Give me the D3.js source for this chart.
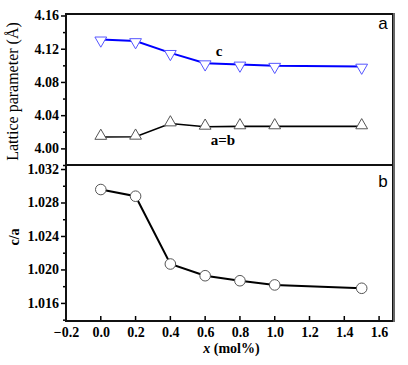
<!DOCTYPE html>
<html><head><meta charset="utf-8">
<script src="https://cdn.jsdelivr.net/npm/d3@7/dist/d3.min.js"></script>
<style>body{margin:0;background:#fff}svg{display:block}</style>
</head><body>
<script>
const xVals = [0, 0.2, 0.4, 0.6, 0.8, 1.0, 1.5];
const cVals = [4.1312, 4.1292, 4.1150, 4.1025, 4.1010, 4.0995, 4.0985];
const abVals = [4.0138, 4.0140, 4.0300, 4.0260, 4.0265, 4.0265, 4.0265];
const caVals = [1.02955, 1.02875, 1.02065, 1.01925, 1.01865, 1.01815, 1.01775];
const xTicks = [-0.2, 0, 0.2, 0.4, 0.6, 0.8, 1.0, 1.2, 1.4, 1.6];
const topTicks = [4.00, 4.04, 4.08, 4.12, 4.16];
const botTicks = [1.016, 1.020, 1.024, 1.028, 1.032];

const W = 408, H = 365;
const L = 66, R = 393, T = 14, M = 165, B = 321;
const svg = d3.select("body").append("svg").attr("width", W).attr("height", H);
const serif = "'Liberation Serif','Times New Roman',serif";

const x = d3.scaleLinear().domain([-0.2, 1.68]).range([L, R]);
const yT = d3.scaleLinear().domain([3.98, 4.1618]).range([M, T]);
const yB = d3.scaleLinear().domain([1.01384, 1.03248]).range([B, M]);

function leftAxis(scale, ticks, fmt, minor) {
  const g = svg.append("g").attr("transform", `translate(${L},0)`);
  g.call(d3.axisLeft(scale).tickValues(ticks).tickFormat(fmt).tickSize(5).tickPadding(2));
  g.append("g").call(d3.axisLeft(scale).tickValues(minor).tickFormat("").tickSize(3));
  g.selectAll("path.domain").remove();
  g.selectAll("line").attr("stroke", "#000").attr("stroke-width", 1.5);
  g.selectAll("text").attr("font-family", serif).attr("font-weight", "bold").attr("font-size", 14).attr("fill", "#000");
  return g;
}
leftAxis(yT, topTicks, d3.format(".2f"), [3.98, 4.02, 4.06, 4.10, 4.14]);
leftAxis(yB, botTicks, d3.format(".3f"), [1.014, 1.018, 1.022, 1.026, 1.030]);

const gx = svg.append("g").attr("transform", `translate(0,${B})`);
gx.call(d3.axisBottom(x).tickValues(xTicks).tickFormat(d3.format(".1f")).tickSize(0).tickPadding(6));
gx.select("path.domain").remove();
gx.selectAll("text").attr("font-family", serif).attr("font-weight", "bold").attr("font-size", 14).attr("fill", "#000");
svg.append("g").selectAll("line").data(xTicks.slice(1)).join("line")
  .attr("x1", d => x(d)).attr("x2", d => x(d)).attr("y1", B).attr("y2", B - 5)
  .attr("stroke", "#000").attr("stroke-width", 1.5);

svg.append("rect").attr("x", L).attr("y", T).attr("width", R - L).attr("height", B - T)
  .attr("fill", "none").attr("stroke", "#111").attr("stroke-width", 2);
svg.append("line").attr("x1", L).attr("x2", R).attr("y1", M).attr("y2", M).attr("stroke", "#111").attr("stroke-width", 2);
svg.append("line").attr("x1", R + 1).attr("x2", R + 1).attr("y1", T - 1).attr("y2", B + 1).attr("stroke", "#666").attr("stroke-width", 2);

function series(scale, vals, color, lw) {
  const line = d3.line().x((d, i) => x(xVals[i])).y(d => scale(d));
  svg.append("path").datum(vals).attr("d", line).attr("fill", "none").attr("stroke", color).attr("stroke-width", lw);
}
series(yT, cVals, "#0000ff", 2);
series(yT, abVals, "#000", 1.6);
series(yB, caVals, "#000", 2);

const triUp = d3.symbol().type(d3.symbolTriangle).size(60);
svg.append("g").selectAll("path").data(abVals).join("path")
  .attr("d", triUp).attr("transform", (d, i) => `translate(${x(xVals[i])},${yT(d) - 1})`)
  .attr("fill", "#fff").attr("stroke", "#555").attr("stroke-width", 1);
svg.append("g").selectAll("path").data(cVals).join("path")
  .attr("d", triUp).attr("transform", (d, i) => `translate(${x(xVals[i])},${yT(d) + 1}) rotate(180)`)
  .attr("fill", "#fff").attr("stroke", "#5555ff").attr("stroke-width", 1);
svg.append("g").selectAll("circle").data(caVals).join("circle")
  .attr("cx", (d, i) => x(xVals[i])).attr("cy", d => yB(d)).attr("r", 5.3)
  .attr("fill", "#fff").attr("stroke", "#555").attr("stroke-width", 1);

svg.append("text").attr("x", 219).attr("y", 56).attr("text-anchor", "middle")
  .attr("font-family", serif).attr("font-weight", "bold").attr("font-size", 15).text("c");
svg.append("text").attr("x", 223).attr("y", 145).attr("text-anchor", "middle")
  .attr("font-family", serif).attr("font-weight", "bold").attr("font-size", 15).text("a=b");
svg.append("text").attr("x", 383).attr("y", 29).attr("text-anchor", "middle")
  .attr("font-family", "'Liberation Sans',Arial,sans-serif").attr("font-size", 17).text("a");
svg.append("text").attr("x", 383).attr("y", 187).attr("text-anchor", "middle")
  .attr("font-family", "'Liberation Sans',Arial,sans-serif").attr("font-size", 17).text("b");

svg.append("text").attr("transform", `translate(18,${(T + M) / 2 + 2}) rotate(-90)`).attr("text-anchor", "middle")
  .attr("font-family", serif).attr("font-size", 16).text("Lattice parameter (Å)");
svg.append("text").attr("transform", `translate(19,${(M + B) / 2 - 6}) rotate(-90)`).attr("text-anchor", "middle")
  .attr("font-family", serif).attr("font-weight", "bold").attr("font-size", 14).text("c/a");
const xt = svg.append("text").attr("x", (L + R) / 2 + 2).attr("y", 353).attr("text-anchor", "middle")
  .attr("font-family", serif).attr("font-weight", "bold").attr("font-size", 14);
xt.append("tspan").attr("font-style", "italic").text("x");
xt.append("tspan").text(" (mol%)");
</script>
</body></html>
